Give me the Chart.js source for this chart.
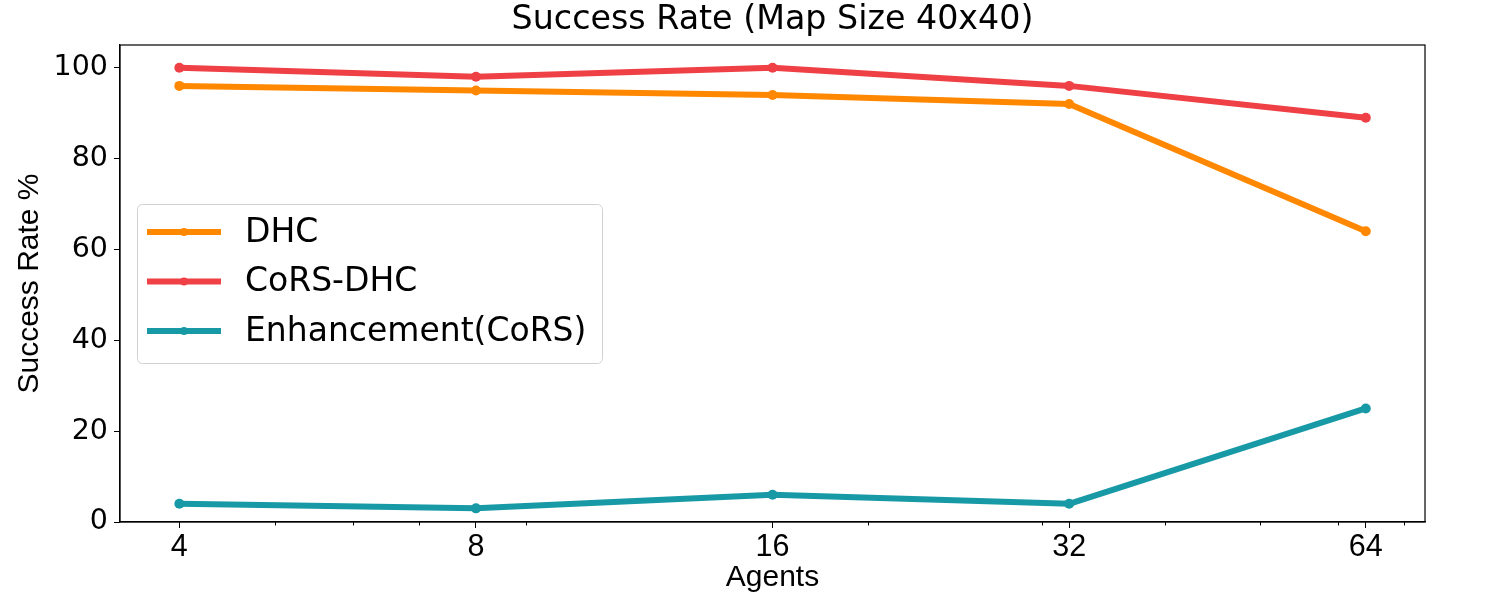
<!DOCTYPE html>
<html>
<head>
<meta charset="utf-8">
<title>Success Rate (Map Size 40x40)</title>
<script src="https://cdn.jsdelivr.net/npm/chart.js@4.4.1/dist/chart.umd.min.js"></script>
<style>
    html, body { margin: 0; padding: 0; background: #fff; }
    #wrap { width: 1500px; height: 600px; position: relative; }
</style>
</head>
<body>
<div id="wrap"><canvas id="success-chart"></canvas></div>
<script>
// data
const agents = [4, 8, 16, 32, 64];
const dhc = [96, 95, 94, 92, 64];
const corsDhc = [100, 98, 100, 96, 89];
const enhancement = [4, 3, 6, 4, 25];
const yTicks = [0, 20, 40, 60, 80, 100];
const minorXTicks = [5, 6, 7, 9, 20, 30, 40, 50, 60, 70];

const chartTitle = 'Success Rate (Map Size 40x40)';
const seriesNames = ['DHC', 'CoRS-DHC', 'Enhancement(CoRS)'];
const seriesColors = ['#ff8800', '#ef4046', '#1899a6'];

function toPoints(values) {
    return agents.map((a, i) => ({ x: a, y: values[i] }));
}

// box around the plot, minor ticks on the log x axis, title centred on the plot
const framePlugin = {
    id: 'frame',
    afterDraw(chart) {
        const ctx = chart.ctx;
        const a = chart.chartArea;
        const xs = chart.scales.x;
        ctx.save();
        ctx.strokeStyle = '#000';
        ctx.lineWidth = 1.2;
        ctx.strokeRect(a.left, a.top, a.right - a.left, a.bottom - a.top);
        ctx.lineWidth = 1;
        minorXTicks.forEach(v => {
            const px = Math.round(xs.getPixelForValue(v)) + 0.5;
            ctx.beginPath();
            ctx.moveTo(px, a.bottom);
            ctx.lineTo(px, a.bottom + 3.5);
            ctx.stroke();
        });

        ctx.fillStyle = '#000';
        ctx.font = '33.3px "DejaVu Sans"';
        ctx.textAlign = 'center';
        ctx.textBaseline = 'alphabetic';
        ctx.fillText(chartTitle, (a.left + a.right) / 2, a.top - 16);
        ctx.restore();
    }
};

// legend drawn inside the plot, like matplotlib
const insideLegend = {
    id: 'insideLegend',
    afterDraw(chart) {
        const ctx = chart.ctx;
        const a = chart.chartArea;
        const left = a.left + 17, top = a.top + 159;
        const w = 465, h = 159, r = 5;
        ctx.save();
        ctx.fillStyle = 'rgba(255,255,255,0.85)';
        ctx.strokeStyle = '#d0d0d0';
        ctx.lineWidth = 1;
        ctx.beginPath();
        ctx.roundRect(left + 0.5, top + 0.5, w, h, r);
        ctx.fill();
        ctx.stroke();

        ctx.font = '33px "DejaVu Sans"';
        ctx.textBaseline = 'middle';
        chart.data.datasets.forEach((ds, i) => {
            const y = top + 28 + i * 49.5;
            ctx.strokeStyle = ds.borderColor;
            ctx.lineWidth = 6;
            ctx.beginPath();
            ctx.moveTo(left + 10, y);
            ctx.lineTo(left + 84, y);
            ctx.stroke();
            ctx.fillStyle = ds.borderColor;
            ctx.beginPath();
            ctx.arc(left + 47, y, 4, 0, Math.PI * 2);
            ctx.fill();
            ctx.fillStyle = '#000';
            ctx.fillText(ds.label, left + 108, y + 1);
        });
        ctx.restore();
    }
};

const ctx = document.getElementById('success-chart').getContext('2d');
const chart = new Chart(ctx, {
    type: 'line',
    data: {
        datasets: [dhc, corsDhc, enhancement].map((vals, i) => ({
            label: seriesNames[i],
            data: toPoints(vals),
            borderColor: seriesColors[i],
            backgroundColor: seriesColors[i],
            borderWidth: 6,
            pointRadius: 5,
            pointHoverRadius: 5,
            pointBorderWidth: 0,
            borderCapStyle: 'round',
            borderJoinStyle: 'round',
            tension: 0
        }))
    },
    options: {
        responsive: true,
        maintainAspectRatio: false,
        animation: false,
        devicePixelRatio: 1,
        layout: { padding: { top: 45, right: 75, bottom: 0, left: 0 } },
        plugins: {
            legend: { display: false },
            tooltip: { enabled: false },
            title: { display: false }
        },
        scales: {
            x: {
                type: 'logarithmic',
                min: 3.482,
                max: 73.5,
                afterBuildTicks: s => { s.ticks = agents.map(v => ({ value: v })); },
                afterFit: s => { s.height = 78; },
                ticks: {
                    color: '#000',
                    font: { family: '"Liberation Sans", Arial', size: 30.5 },
                    padding: 1,
                    autoSkip: false,
                    maxRotation: 0,
                    callback: v => String(v)
                },
                grid: { drawOnChartArea: false, tickLength: 6, tickColor: '#000' },
                border: { display: true, color: '#000', width: 1.2 },
                title: {
                    display: true,
                    text: 'Agents',
                    color: '#000',
                    font: { family: '"Liberation Sans", Arial', size: 30, lineHeight: 1.2 },
                    padding: { top: 0, bottom: 4 }
                }
            },
            y: {
                min: 0,
                max: 105,
                afterBuildTicks: s => { s.ticks = yTicks.map(v => ({ value: v })); },
                afterFit: s => { s.width = 120; },
                ticks: {
                    color: '#000',
                    font: { family: '"DejaVu Sans"', size: 28.5 },
                    padding: 6
                },
                grid: { drawOnChartArea: false, tickLength: 6, tickColor: '#000' },
                border: { display: true, color: '#000', width: 1.2 },
                title: {
                    display: true,
                    text: 'Success Rate %',
                    color: '#000',
                    font: { family: '"Liberation Sans", Arial', size: 30, lineHeight: 1.2 },
                    padding: { top: 12, bottom: 0 }
                }
            }
        }
    },
    plugins: [framePlugin, insideLegend]
});
</script>
</body>
</html>
